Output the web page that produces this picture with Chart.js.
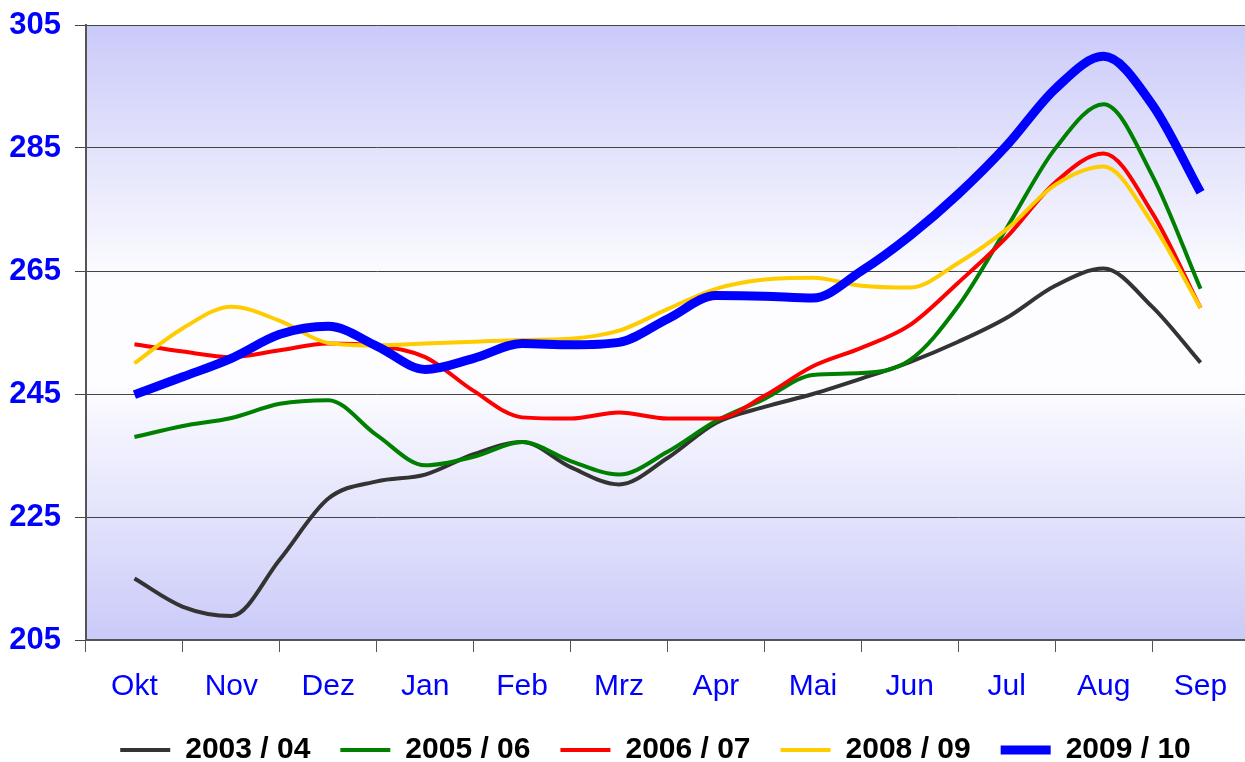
<!DOCTYPE html>
<html>
<head>
<meta charset="utf-8">
<script src="https://cdn.jsdelivr.net/npm/chart.js@4"></script>
<style>
  html, body { margin: 0; padding: 0; background: #ffffff; overflow: hidden; }
  #wrap { width: 1250px; height: 762px; }
</style>
</head>
<body>
<div id="wrap"><canvas id="grafico" width="1250" height="762"></canvas></div>
<script>
const meses = ['Okt', 'Nov', 'Dez', 'Jan', 'Feb', 'Mrz', 'Apr', 'Mai', 'Jun', 'Jul', 'Aug', 'Sep']
// position in months, Okt = 0 (half-month steps)
const posiciones = [0, 0.5, 1, 1.5, 2, 2.5, 3, 3.5, 4, 4.5, 5, 5.5, 6, 6.5, 7, 7.5, 8, 8.5, 9, 9.5, 10, 10.5, 11]

const serie2003 = [215.0, 210.4, 208.9, 218.1, 228.0, 230.8, 231.9, 235.2, 237.2, 233.1, 230.3, 234.6, 240.3, 242.9, 245.0, 247.5, 250.2, 253.5, 257.4, 262.6, 265.4, 259.2, 250.1]
const serie2005 = [238.0, 239.8, 241.1, 243.4, 244.0, 238.3, 233.4, 234.8, 237.2, 234.1, 231.9, 235.6, 240.6, 244.2, 248.1, 248.4, 250.5, 259.3, 272.0, 284.9, 292.1, 280.6, 262.1]
const serie2006 = [253.1, 251.9, 251.0, 252.1, 253.2, 252.8, 251.0, 245.5, 241.2, 241.0, 242.0, 241.0, 241.0, 244.7, 249.5, 252.5, 256.2, 263.1, 270.5, 279.4, 284.1, 274.5, 259.0]
const serie2008 = [250.0, 255.7, 259.2, 256.9, 253.3, 252.9, 253.2, 253.5, 253.8, 254.0, 255.3, 258.8, 262.1, 263.6, 263.9, 262.6, 262.3, 266.3, 271.8, 279.0, 282.0, 272.8, 259.0]
const serie2009 = [244.9, 247.8, 250.8, 254.7, 256.0, 252.8, 249.0, 250.8, 253.2, 253.0, 253.4, 257.2, 261.0, 260.9, 260.6, 265.0, 270.7, 277.5, 285.4, 294.6, 299.9, 292.1, 277.8]

const ticksY = [205, 225, 245, 265, 285, 305]

const fuente = "'Liberation Sans', Arial, sans-serif"

function puntos(valores) {
    return valores.map((v, i) => ({ x: posiciones[i], y: v }))
}

function crearSerie(label, valores, color, grosor, orden) {
    return {
        label: label,
        data: puntos(valores),
        borderColor: color,
        backgroundColor: color,
        borderWidth: grosor,
        pointRadius: 0,
        cubicInterpolationMode: 'monotone',
        xAxisID: 'xv',
        order: orden
    }
}

const fondoPlugin = {
    id: 'fondo',
    beforeDraw(chart) {
        const { ctx, chartArea } = chart
        const g = ctx.createLinearGradient(0, chartArea.top, 0, chartArea.bottom)
        g.addColorStop(0, '#cacaf9')
        g.addColorStop(0.42, '#fdfdff')
        g.addColorStop(0.58, '#fdfdff')
        g.addColorStop(1, '#cacaf9')
        ctx.save()
        ctx.fillStyle = g
        ctx.fillRect(chartArea.left, chartArea.top, chartArea.right - chartArea.left, chartArea.bottom - chartArea.top)
        ctx.restore()
    }
}

// legend sits a bit right of the canvas centre in the original
const leyendaPlugin = {
    id: 'leyendaDesplazada',
    afterLayout(chart) {
        chart.legend.left += 31
        chart.legend.right += 31
    }
}

const config = {
    type: 'line',
    data: {
        labels: meses,
        datasets: [
            crearSerie('2003 / 04', serie2003, '#333333', 4, 5),
            crearSerie('2005 / 06', serie2005, '#008000', 4, 4),
            crearSerie('2006 / 07', serie2006, '#ff0000', 4, 3),
            crearSerie('2008 / 09', serie2008, '#ffcc00', 4, 2),
            crearSerie('2009 / 10', serie2009, '#0000ff', 9, 1)
        ]
    },
    options: {
        responsive: false,
        animation: false,
        layout: { padding: { top: 25, right: 1, left: 0, bottom: -13 } },
        plugins: {
            tooltip: { enabled: false },
            legend: {
                position: 'bottom',
                labels: {
                    usePointStyle: true,
                    pointStyle: 'line',
                    pointStyleWidth: 50,
                    padding: 30,
                    color: '#000000',
                    font: { family: fuente, size: 30, weight: 'bold' },
                    sort: (a, b) => a.datasetIndex - b.datasetIndex
                }
            }
        },
        scales: {
            x: {
                type: 'category',
                offset: true,
                grid: { display: true, offset: true, drawOnChartArea: false, tickLength: 12, color: '#555555' },
                border: { color: '#555555', width: 2 },
                ticks: { color: '#0000ff', padding: 17, font: { family: fuente, size: 30 } },
                afterFit(scale) { scale.height = 65 }
            },
            xv: {
                type: 'linear',
                display: false,
                min: -0.5,
                max: 11.5
            },
            y: {
                min: 205,
                max: 305,
                afterBuildTicks(scale) { scale.ticks = ticksY.map(v => ({ value: v })) },
                grid: { color: '#444444', tickLength: 11 },
                border: { color: '#555555', width: 2 },
                ticks: { color: '#0000ff', padding: 14, font: { family: fuente, size: 31, weight: 'bold' } },
                afterFit(scale) {
                    scale.width = 86
                    scale.paddingTop = 0
                    scale.paddingBottom = 0
                }
            }
        }
    },
    plugins: [fondoPlugin, leyendaPlugin]
}

const grafico = new Chart(document.getElementById('grafico'), config)
</script>
</body>
</html>
